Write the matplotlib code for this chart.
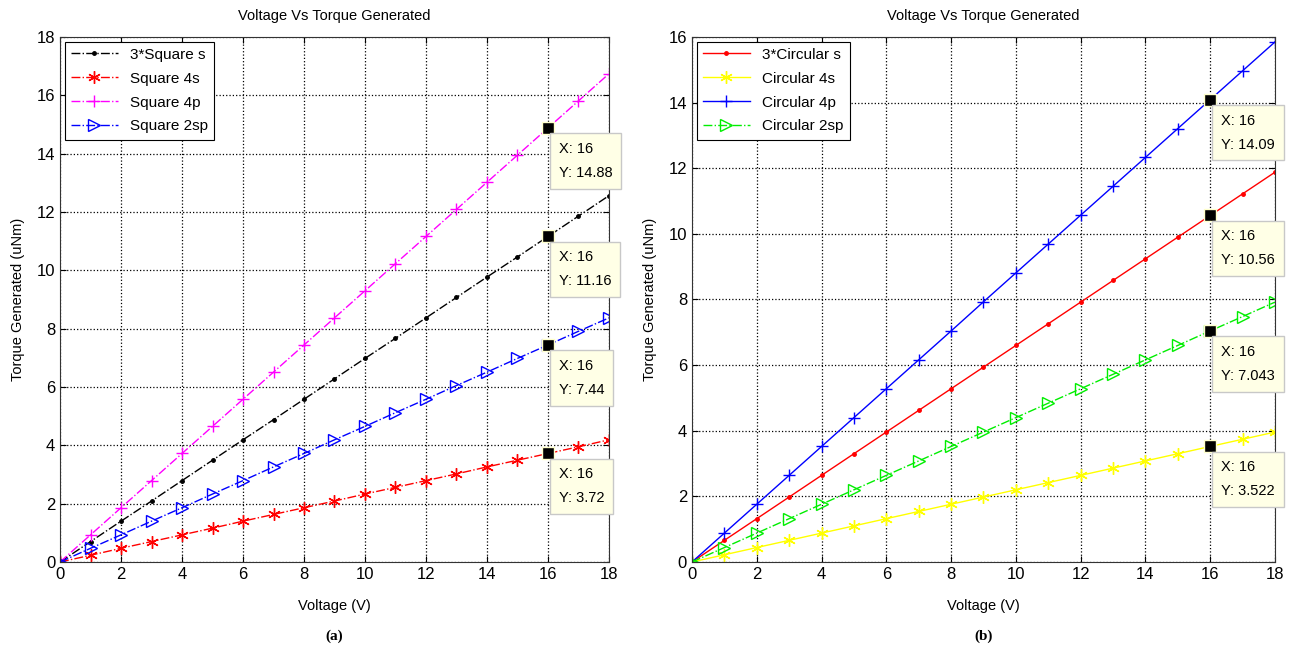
import matplotlib.pyplot as plt

plt.rcParams['font.family'] = ['Liberation Sans', 'DejaVu Sans']

voltage = list(range(0, 19))

# panel (a) - square coils
sq_3s = [0, 0.70, 1.40, 2.09, 2.79, 3.49, 4.19, 4.88, 5.58, 6.28, 6.98, 7.67,
         8.37, 9.07, 9.77, 10.46, 11.16, 11.86, 12.56]
sq_4s = [0, 0.23, 0.47, 0.70, 0.93, 1.16, 1.40, 1.63, 1.86, 2.09, 2.33, 2.56,
         2.79, 3.02, 3.26, 3.49, 3.72, 3.95, 4.19]
sq_4p = [0, 0.93, 1.86, 2.79, 3.72, 4.65, 5.58, 6.51, 7.44, 8.37, 9.30, 10.23,
         11.16, 12.09, 13.02, 13.95, 14.88, 15.81, 16.74]
sq_2sp = [0, 0.47, 0.93, 1.40, 1.86, 2.33, 2.79, 3.26, 3.72, 4.19, 4.65, 5.12,
          5.58, 6.05, 6.51, 6.98, 7.44, 7.91, 8.37]

# panel (b) - circular coils
ci_3s = [0, 0.66, 1.32, 1.98, 2.64, 3.30, 3.96, 4.62, 5.28, 5.94, 6.60, 7.26,
         7.92, 8.58, 9.24, 9.90, 10.56, 11.22, 11.88]
ci_4s = [0, 0.22, 0.44, 0.66, 0.88, 1.10, 1.32, 1.54, 1.76, 1.98, 2.20, 2.42,
         2.64, 2.86, 3.08, 3.30, 3.522, 3.74, 3.96]
ci_4p = [0, 0.88, 1.76, 2.64, 3.52, 4.40, 5.28, 6.16, 7.04, 7.93, 8.81, 9.69,
         10.57, 11.45, 12.33, 13.21, 14.09, 14.97, 15.85]
ci_2sp = [0, 0.44, 0.88, 1.32, 1.76, 2.20, 2.64, 3.08, 3.52, 3.96, 4.40, 4.84,
          5.28, 5.72, 6.16, 6.60, 7.043, 7.48, 7.92]

tip_x = 16
tips_a = [14.88, 11.16, 7.44, 3.72]
tips_b = [14.09, 10.56, 7.043, 3.522]
labels_a = ['14.88', '11.16', '7.44', '3.72']
labels_b = ['14.09', '10.56', '7.043', '3.522']

star = (6, 2, 0)  # matlab style asterisk

fig = plt.figure(figsize=(12.91, 6.56), dpi=100)
ax1 = fig.add_axes([0.0465, 0.1433, 0.4252, 0.8003])
ax2 = fig.add_axes([0.5360, 0.1433, 0.4516, 0.8003])

ax1.plot(voltage, sq_3s, '-.', color='black', marker='.', markersize=5, lw=1, label='3*Square s')
ax1.plot(voltage, sq_4s, '-.', color='red', marker=star, markersize=9, lw=1, label='Square 4s')
ax1.plot(voltage, sq_4p, '-.', color='magenta', marker='+', markersize=9, lw=1, label='Square 4p')
ax1.plot(voltage, sq_2sp, '-.', color='blue', marker='>', markersize=8, mfc='none', lw=1, label='Square 2sp')

ax2.plot(voltage, ci_3s, '-', color='red', marker='.', markersize=5, lw=1, label='3*Circular s')
ax2.plot(voltage, ci_4s, '-', color='yellow', marker=star, markersize=9, lw=1, label='Circular 4s')
ax2.plot(voltage, ci_4p, '-', color='blue', marker='+', markersize=9, lw=1, label='Circular 4p')
ax2.plot(voltage, ci_2sp, '-.', color='#00ee00', marker='>', markersize=8, mfc='none', lw=1, label='Circular 2sp')


def add_tips(ax, ys, labels):
    for y, lab in zip(ys, labels):
        ax.plot(tip_x, y, 's', color='black', markersize=9,
                markeredgecolor='#ffffcc', markeredgewidth=1, zorder=5)
        ax.annotate('X: 16\nY: ' + lab, xy=(tip_x, y), xytext=(11, -14),
                    textcoords='offset pixels', ha='left', va='top',
                    fontsize=10.5, linespacing=1.9, annotation_clip=False,
                    bbox=dict(boxstyle='square,pad=0.6', fc='#ffffe6',
                              ec='#c8c8c8', lw=1), zorder=6)


add_tips(ax1, tips_a, labels_a)
add_tips(ax2, tips_b, labels_b)

for ax, ymax, cap in [(ax1, 18, '(a)'), (ax2, 16, '(b)')]:
    ax.set_xlim(0, 18)
    ax.set_ylim(0, ymax)
    ax.set_xticks(range(0, 19, 2))
    ax.set_yticks(range(0, ymax + 1, 2))
    ax.grid(True, linestyle=':', color='black', lw=0.9)
    ax.tick_params(direction='in', labelsize=12, top=True, right=True, length=4)
    ax.set_title('Voltage Vs Torque Generated', fontsize=10.5, pad=12)
    ax.set_xlabel('Voltage (V)', fontsize=10.5, labelpad=12)
    ax.set_ylabel('Torque Generated (uNm)', fontsize=10.5, labelpad=8)
    for s in ax.spines.values():
        s.set_color('#333333')
    leg = ax.legend(loc='upper left', fontsize=11, fancybox=False,
                    edgecolor='black', framealpha=1, handlelength=3.1,
                    labelspacing=0.65, borderaxespad=0.3)
    leg.get_frame().set_linewidth(0.8)
    pos = ax.get_position()
    fig.text((pos.x0 + pos.x1) / 2, 0.02, cap, ha='center', va='bottom',
             fontsize=11, fontweight='bold', family='Liberation Serif')

fig.savefig('out.png', dpi=100)
